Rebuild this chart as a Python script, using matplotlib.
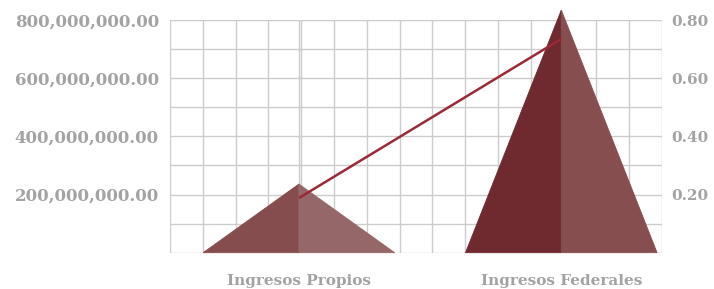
import matplotlib
matplotlib.use("Agg")
import matplotlib.pyplot as plt
from matplotlib.ticker import FuncFormatter, MultipleLocator
import numpy as np

categories = ["Ingresos Propios", "Ingresos Federales"]
ingresos = [236_000_000, 834_000_000]      # pyramid heights (left axis)
proporcion = [0.188, 0.735]                  # line values (right axis)

# layout bits (not data)
pos = [3.93, 11.93]
half = 2.92
left_faces = ["#864d4e", "#6e2a2f"]
right_faces = ["#956768", "#874e4f"]
txt = "#a3a3a3"
grid_c = "#cccccc"

plt.rcParams["font.family"] = ["DejaVu Serif"]

fig = plt.figure(figsize=(7.14, 2.89), dpi=100)
ax = fig.add_axes([170 / 714, 36.3 / 289, 492 / 714, 232.7 / 289])

ax.set_xlim(0, 15)
ax.set_ylim(0, 800_000_000)
ax.xaxis.set_minor_locator(MultipleLocator(1))
ax.yaxis.set_minor_locator(MultipleLocator(100_000_000))
ax.set_yticks([200_000_000, 400_000_000, 600_000_000, 800_000_000])
ax.yaxis.set_major_formatter(FuncFormatter(lambda v, p: f"{v:,.2f}"))
ax.set_xticks(pos)
ax.set_xticklabels(categories)
ax.grid(True, which="both", color=grid_c, linewidth=1.0)
ax.set_axisbelow(True)
for s in ax.spines.values():
    s.set_visible(False)
ax.tick_params(which="both", length=0)
ax.tick_params(axis="y", pad=8, labelsize=12, labelcolor=txt)
ax.tick_params(axis="x", pad=15, labelsize=11, labelcolor=txt)
for lab in ax.get_yticklabels() + ax.get_xticklabels():
    lab.set_fontweight("bold")

# pyramids: two faces each
for x0, v, lc, rc in zip(pos, ingresos, left_faces, right_faces):
    ax.fill([x0 - half, x0, x0], [0, v, 0], facecolor=lc, edgecolor=lc, lw=0.6,
            clip_on=False, zorder=2)
    ax.fill([x0, x0, x0 + half], [0, v, 0], facecolor=rc, edgecolor=rc, lw=0.6,
            clip_on=False, zorder=2)

ax2 = ax.twinx()
ax2.set_ylim(0, 0.8)
ax2.set_yticks([0.2, 0.4, 0.6, 0.8])
ax2.yaxis.set_major_formatter(FuncFormatter(lambda v, p: f"{v:.2f}"))
ax2.plot(pos, proporcion, color="#9b2a36", linewidth=1.8, solid_capstyle="butt")
for s in ax2.spines.values():
    s.set_visible(False)
ax2.tick_params(length=0, pad=7, labelsize=11, labelcolor=txt)
for lab in ax2.get_yticklabels():
    lab.set_fontweight("bold")

fig.savefig("out.png", dpi=100)
